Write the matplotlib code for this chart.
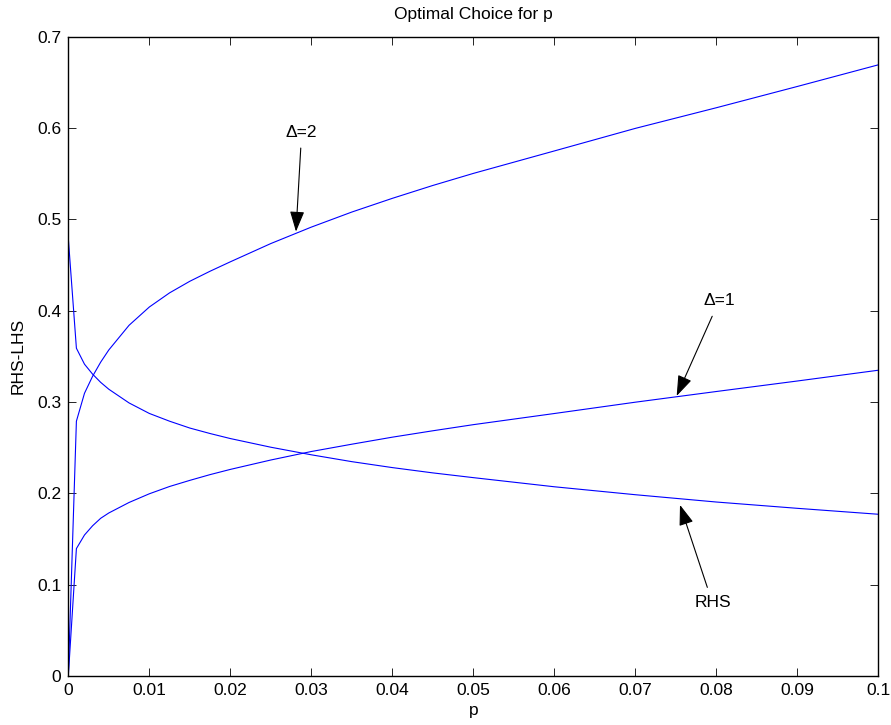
import matplotlib
matplotlib.use("Agg")
import matplotlib.pyplot as plt

plt.rcParams['font.family'] = ['Liberation Sans', 'DejaVu Sans']

p = [0, 0.001, 0.002, 0.003, 0.004, 0.005, 0.0075, 0.01, 0.0125, 0.015, 0.0175,
     0.02, 0.025, 0.03, 0.035, 0.04, 0.045, 0.05, 0.06, 0.07, 0.08, 0.09, 0.1]

delta2 = [0, 0.2790, 0.3096, 0.3282, 0.3437, 0.3570, 0.3840, 0.4040, 0.4195, 0.4322,
          0.4432, 0.4535, 0.4735, 0.4915, 0.5080, 0.5230, 0.5371, 0.5503, 0.5749,
          0.5996, 0.6222, 0.6455, 0.6692]

delta1 = [0, 0.1395, 0.1544, 0.1645, 0.1727, 0.1785, 0.1900, 0.1995, 0.2075, 0.2142,
          0.2205, 0.2262, 0.2365, 0.2458, 0.2538, 0.2615, 0.2685, 0.2752, 0.2874,
          0.2998, 0.3115, 0.3230, 0.3348]

rhs = [0.4794, 0.3589, 0.3414, 0.3305, 0.3215, 0.3140, 0.2990, 0.2875, 0.2790, 0.2715,
       0.2655, 0.2600, 0.2505, 0.2422, 0.2347, 0.2282, 0.2224, 0.2172, 0.2072,
       0.1985, 0.1905, 0.1836, 0.1771]

xticks = [0, 0.01, 0.02, 0.03, 0.04, 0.05, 0.06, 0.07, 0.08, 0.09, 0.1]
xticklabels = ['0', '0.01', '0.02', '0.03', '0.04', '0.05', '0.06', '0.07', '0.08', '0.09', '0.1']
yticks = [0, 0.1, 0.2, 0.3, 0.4, 0.5, 0.6, 0.7]
yticklabels = ['0', '0.1', '0.2', '0.3', '0.4', '0.5', '0.6', '0.7']

fig = plt.figure(figsize=(8.91, 7.25), dpi=100)
ax = fig.add_axes([68.3 / 891, 49 / 725, 810 / 891, 639.3 / 725])

for series in (delta2, delta1, rhs):
    ax.plot(p, series, color='#0000ff', linewidth=0.8)

ax.set_xlim(0, 0.1)
ax.set_ylim(0, 0.7)
ax.set_xticks(xticks)
ax.set_xticklabels(xticklabels)
ax.set_yticks(yticks)
ax.set_yticklabels(yticklabels)
ax.tick_params(direction='in', length=6, width=0.6, top=True, right=True,
               labelsize=12.5, pad=5)
for s in ax.spines.values():
    s.set_linewidth(1.0)

ax.set_title('Optimal Choice for p', fontsize=12.5, pad=13)
ax.set_xlabel('p', fontsize=12.5, labelpad=4)
ax.set_ylabel('RHS-LHS', fontsize=12.5, labelpad=8)

arrow = dict(arrowstyle='-|>,head_length=0.9,head_width=0.32', color='black',
             linewidth=0.8, mutation_scale=14, shrinkA=4, shrinkB=0)
ax.annotate('Δ=2', xy=(0.02811, 0.4866), xytext=(0.02881, 0.5954),
            ha='center', va='center', fontsize=12.5, arrowprops=arrow)
ax.annotate('Δ=1', xy=(0.07511, 0.3067), xytext=(0.08034, 0.4107),
            ha='center', va='center', fontsize=12.5, arrowprops=arrow)
ax.annotate('RHS', xy=(0.07552, 0.1873), xytext=(0.07953, 0.0800),
            ha='center', va='center', fontsize=12.5, arrowprops=arrow)

fig.savefig('out.png', dpi=100)
